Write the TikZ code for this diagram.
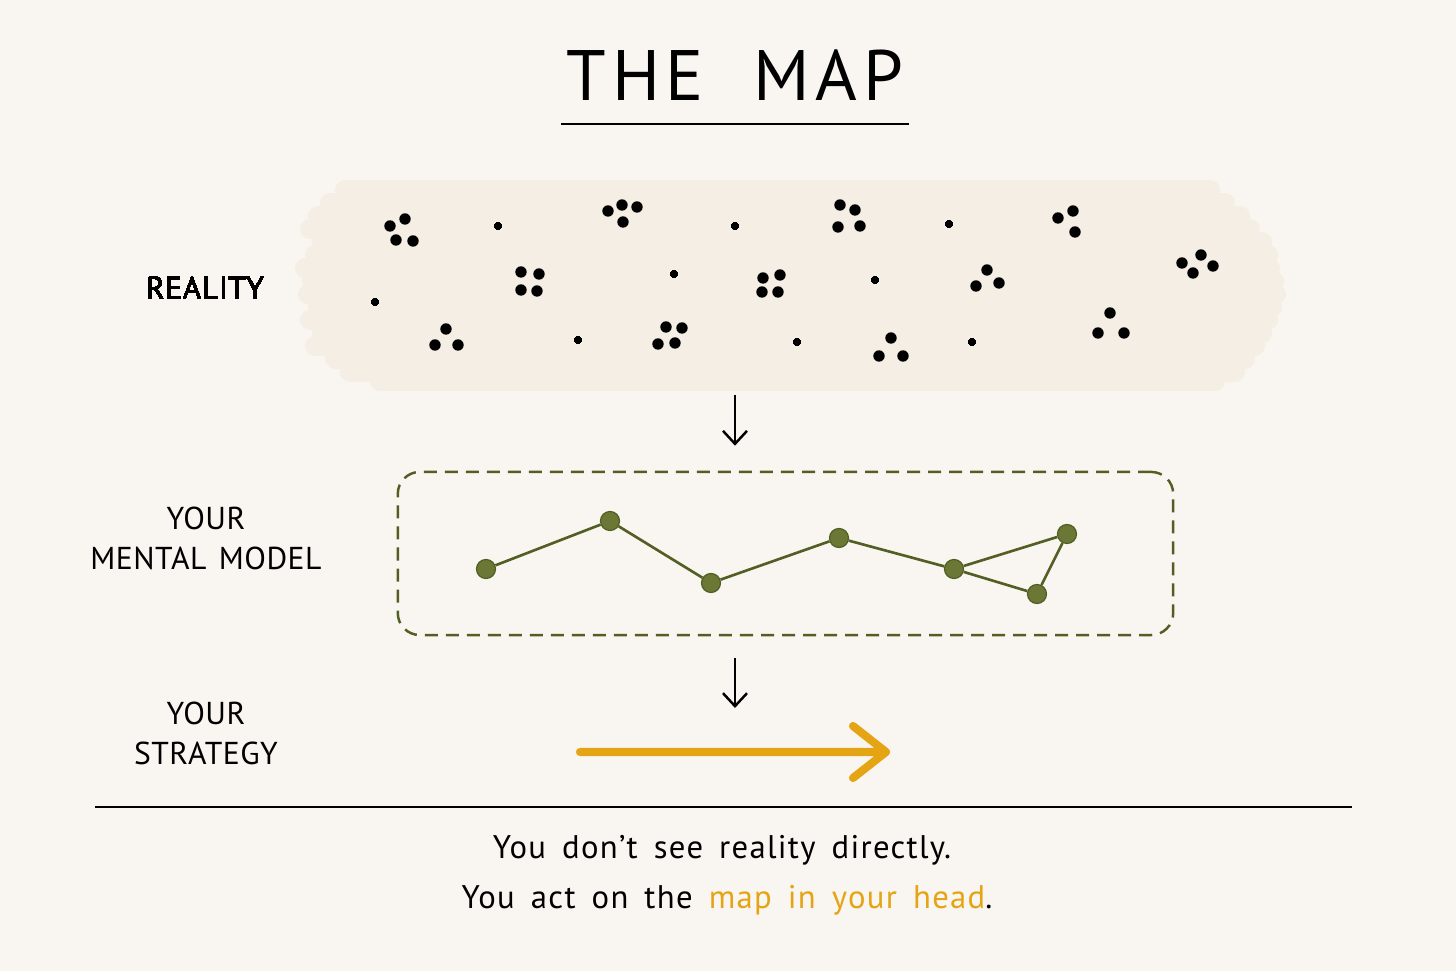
\documentclass[tikz,border=0pt]{standalone}
\usepackage{fontspec}
\setmainfont{PT Sans}
\newfontfamily\handfont[LetterSpace=1.5,WordSpace=1.4]{PT Sans}
\newfontfamily\notefont[LetterSpace=4.0,WordSpace=1.6]{PT Sans}
\newfontfamily\titlefont[LetterSpace=8.0,WordSpace=2.0]{PT Sans}
\usetikzlibrary{arrows.meta,positioning}
\definecolor{paper}{HTML}{F9F6F1}
\definecolor{band}{HTML}{F4EEE4}
\definecolor{olive}{HTML}{6B7734}
\definecolor{olivedark}{HTML}{535E24}
\definecolor{amber}{HTML}{E5A413}
\tikzstyle{label} = [font=\handfont\fontsize{9pt}{11.4pt}\selectfont, align=center, inner sep=0pt]
\tikzstyle{note} = [font=\notefont\fontsize{9.3pt}{11.6pt}\selectfont, inner sep=0pt]
\tikzstyle{knot} = [circle, minimum size=.19cm, inner sep=0pt, fill=olive, draw=olivedark, line width=.35pt]
\tikzstyle{tie} = [draw=olivedark, line width=.75pt]
\tikzstyle{modelbox} = [draw=olivedark, line width=.7pt, rounded corners=.22cm, dash pattern=on .13cm off .08cm, minimum width=7.75cm, minimum height=1.63cm, inner sep=0pt]
\tikzstyle{down} = [line width=.7pt, -{Straight Barb[length=.13cm,width=.24cm]}]
\tikzstyle{strat} = [draw=amber, line width=2.3pt, line cap=round, line join=round]
\newcommand{\bigdot}[2]{\fill (#1,#2) circle (.057cm);}
\newcommand{\smalldot}[2]{\fill (#1,#2) circle (.037cm);}

\begin{document}
\begin{tikzpicture}[x=.01cm, y=-.01cm]%
	\fill[paper] (0,0) rectangle (1456,971);%
	\foreach \ya/\xa/\xb in {190/345/1210, 203/330/1225, 216/318/1240, 229/310/1250, 242/322/1262, 255/315/1268, 268/305/1270, 281/312/1274, 294/308/1276, 307/318/1272, 320/310/1268, 333/322/1262, 346/315/1255, 359/335/1245, 372/350/1235, 381/380/1215}%
		\draw[band, line width=.2cm, line cap=round] (\xa,\ya) -- (\xb,\ya);%
	\node[font=\titlefont\fontsize{20.3pt}{24pt}\selectfont, inner sep=0pt] (title) at (735,75) {THE MAP};%
	\draw[line width=.8pt] (561,124) -- (909,124);%
	\foreach \x/\y in {390/226, 405/219, 396/240, 413/241, 608/211, 622/205, 637/207, 623/222, 521/272, 539/274, 521/290, 537/291, 763/278, 780/275, 762/292, 778/292, 446/329, 435/345, 458/345, 666/327, 682/328, 658/344, 675/343, 840/205, 855/210, 838/227, 860/226, 1058/218, 1073/211, 1075/232, 987/270, 976/286, 999/283, 1182/263, 1201/255, 1213/266, 1193/273, 891/338, 879/356, 903/356, 1110/313, 1098/333, 1124/333}%
		\bigdot{\x}{\y}%
	\foreach \x/\y in {498/226, 735/226, 674/274, 375/302, 578/340, 797/342, 949/224, 875/280, 972/342}%
		\smalldot{\x}{\y}%
	\node[label] (reality) at (205,288) {REALITY};%
	\node[label] (mental) at (206,538) {YOUR\\MENTAL MODEL};%
	\node[label] (strategy) at (206,733) {YOUR\\STRATEGY};%
	\node[modelbox] (model) at (785.5,553.5) {};%
	\node[knot] (k1) at (486,569) {};%
	\node[knot] (k2) at (610,521) {};%
	\node[knot] (k3) at (711,583) {};%
	\node[knot] (k4) at (839,538) {};%
	\node[knot] (k5) at (954,569) {};%
	\node[knot] (k6) at (1067,534) {};%
	\node[knot] (k7) at (1037,594) {};%
	\draw[tie] (k1) -- (k2) -- (k3) -- (k4) -- (k5) -- (k6) -- (k7) -- (k5);%
	\coordinate (realbot) at (735,395);%
	\coordinate (stratop) at (735,708);%
	\draw[down, shorten >=.25cm] (realbot) -- (realbot |- model.north);%
	\draw[down, shorten <=.22cm] (stratop |- model.south) -- (stratop);%
	\coordinate (go) at (580,752);%
	\coordinate (goal) at (886,752);%
	\draw[strat] (go) -- (goal) -- ++(-33,-26) (goal) -- ++(-33,26);%
	\draw[line width=.7pt] (95,807) -- (1352,807);%
	\node[note] (seeline) at (722,850) {You don’t see reality directly.};%
	\node[note] (actline) at (727,900) {You act on the \textcolor{amber}{map in your head}.};%
\end{tikzpicture}
\end{document}
